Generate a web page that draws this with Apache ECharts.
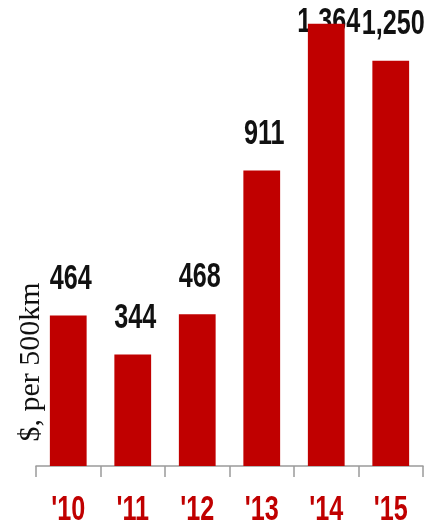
<!DOCTYPE html>
<html><head><meta charset="utf-8">
<script src="https://cdn.jsdelivr.net/npm/echarts@6/dist/echarts.min.js"></script>
<style>html,body{margin:0;padding:0;background:#fff}#c{width:424px;height:528px}</style>
</head><body><div id="c"></div>
<script>
const categories = ["'10", "'11", "'12", "'13", "'14", "'15"];
const values = [464, 344, 468, 911, 1364, 1250];
const yAxisTitle = "$, per 500km";

const RED = '#c00000';
const FONT = 'bold 35px "Liberation Sans", Arial, sans-serif';
const SX = 0.72;
const chart = echarts.init(document.getElementById('c'), null, {renderer: 'canvas'});
chart.setOption({
  animation: false,
  grid: {left: 36, right: 1, top: 12, bottom: 62},
  xAxis: {
    type: 'category', data: categories,
    axisLine: {lineStyle: {color: '#9a9a9a', width: 1.5}},
    axisTick: {show: true, interval: 0, length: 11, lineStyle: {color: '#9a9a9a', width: 1.5}},
    axisLabel: {show: false}
  },
  yAxis: {
    type: 'value', min: 0, max: 1400,
    axisLine: {show: false}, axisTick: {show: false}, axisLabel: {show: false}, splitLine: {show: false}
  },
  series: [{
    type: 'bar', data: values, barWidth: '57%',
    itemStyle: {color: RED}
  }, {
    type: 'custom', clip: false, silent: true,
    data: values.map((v, i) => [i, v]),
    renderItem: function (params, api) {
      const i = api.value(0), v = api.value(1);
      const top = api.coord([i, v]);
      const base = api.coord([i, 0]);
      return {type: 'group', children: [
        {type: 'text', x: top[0] + 2.5, y: Math.max(top[1] - 36.5, 22.5), scaleX: SX,
         style: {text: v.toLocaleString('en-US'), font: FONT, fill: '#111', align: 'center', verticalAlign: 'middle'}},
        {type: 'text', x: base[0], y: base[1] + 44, scaleX: SX,
         style: {text: categories[i], font: FONT, fill: RED, align: 'center', verticalAlign: 'middle'}}
      ]};
    }
  }],
  graphic: [{
    type: 'text', x: 31, y: 362, rotation: Math.PI / 2,
    style: {text: yAxisTitle, font: '30px "Liberation Serif", serif', fill: '#111', textAlign: 'center', textVerticalAlign: 'middle'}
  }]
});
</script></body></html>
